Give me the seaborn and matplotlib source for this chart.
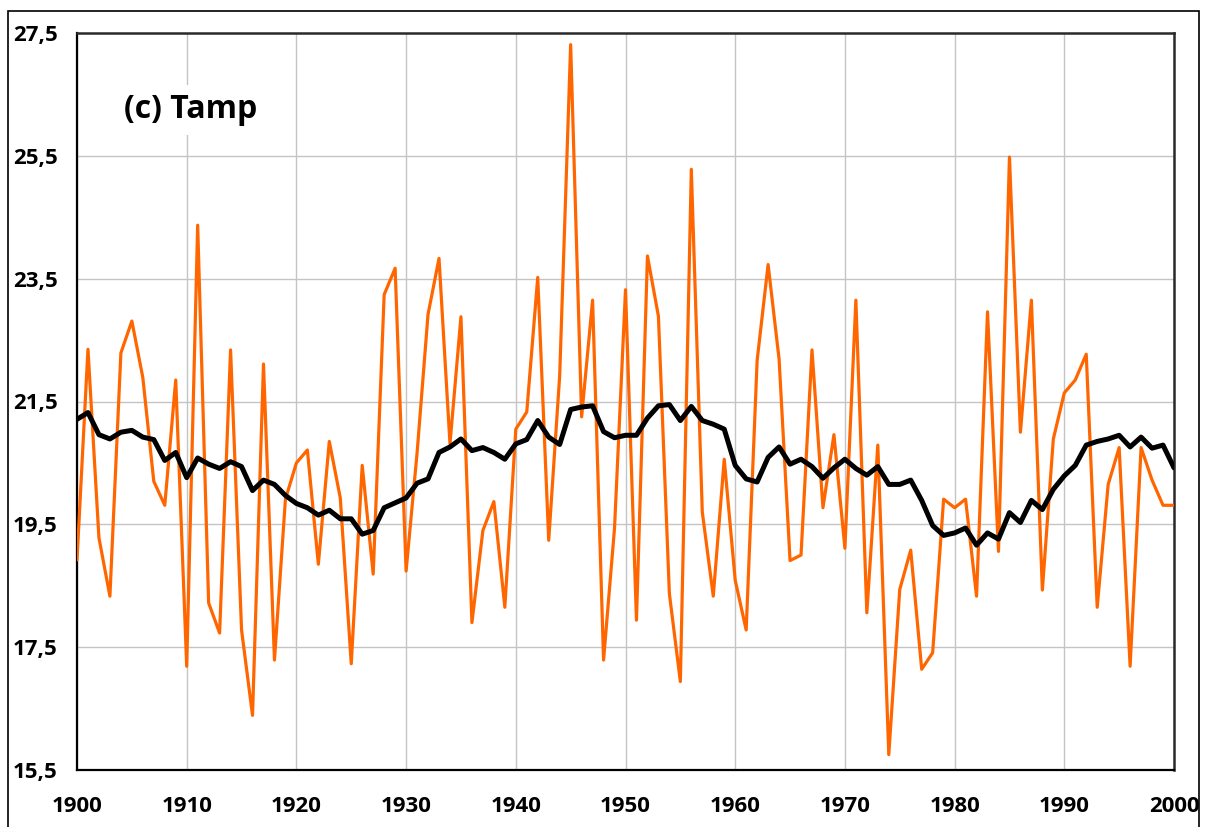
import matplotlib
matplotlib.use("Agg")
import matplotlib.pyplot as plt
import numpy as np
import pandas as pd
import seaborn as sns
from matplotlib.patches import Rectangle

# Annual amplitude series and its running mean, 1900-2000
years = list(range(1900, 2001))
tamp = [
    18.92, 22.35, 19.28, 18.33, 22.29, 22.81, 21.89, 20.20, 19.81, 21.85,
    17.19, 24.37, 18.22, 17.73, 22.34, 17.78, 16.39, 22.11, 17.29, 19.91,
    20.50, 20.71, 18.85, 20.85, 19.93, 17.23, 20.46, 18.69, 23.24, 23.67,
    18.74, 20.66, 22.92, 23.83, 20.81, 22.88, 17.90, 19.40, 19.87, 18.15,
    21.05, 21.33, 23.52, 19.24, 21.92, 27.31, 21.25, 23.15, 17.29, 19.44,
    23.32, 17.94, 23.87, 22.89, 18.37, 16.94, 25.28, 19.70, 18.33, 20.56,
    18.59, 17.78, 22.17, 23.73, 22.19, 18.91, 19.00, 22.34, 19.77, 20.96,
    19.11, 23.15, 18.06, 20.79, 15.75, 18.44, 19.08, 17.14, 17.41, 19.91,
    19.77, 19.91, 18.33, 22.96, 19.06, 25.48, 21.00, 23.15, 18.43, 20.89,
    21.64, 21.85, 22.27, 18.15, 20.15, 20.75, 17.19, 20.75, 20.22, 19.81,
    19.81,
]
tamp_mean = [
    21.21, 21.32, 20.96, 20.89, 21.00, 21.03, 20.92, 20.88, 20.54, 20.67,
    20.26, 20.58, 20.48, 20.41, 20.52, 20.44, 20.05, 20.22, 20.15, 19.97,
    19.84, 19.77, 19.65, 19.73, 19.59, 19.59, 19.34, 19.40, 19.77, 19.85,
    19.93, 20.17, 20.24, 20.67, 20.76, 20.89, 20.70, 20.75, 20.67, 20.56,
    20.81, 20.88, 21.19, 20.92, 20.80, 21.37, 21.41, 21.43, 21.01, 20.91,
    20.95, 20.95, 21.23, 21.43, 21.45, 21.19, 21.42, 21.19, 21.13, 21.05,
    20.46, 20.24, 20.19, 20.59, 20.76, 20.48, 20.56, 20.44, 20.25, 20.42,
    20.56, 20.41, 20.30, 20.44, 20.15, 20.15, 20.22, 19.89, 19.48, 19.32,
    19.36, 19.44, 19.16, 19.36, 19.26, 19.69, 19.53, 19.89, 19.74, 20.07,
    20.29, 20.46, 20.79, 20.85, 20.89, 20.95, 20.76, 20.92, 20.74, 20.79,
    20.42,
]
y_ticks = [15.5, 17.5, 19.5, 21.5, 23.5, 25.5, 27.5]
y_tick_labels = ["15,5", "17,5", "19,5", "21,5", "23,5", "25,5", "27,5"]
x_ticks = list(range(1900, 2001, 10))
x_tick_labels = [str(y) for y in x_ticks]
panel_label = "(c) Tamp"

sns.set_style("white")
FONT = ["Open Sans", "DejaVu Sans"]
plt.rcParams["font.family"] = FONT
plt.rcParams["font.weight"] = "bold"
plt.rcParams["text.color"] = "black"
plt.rcParams["xtick.color"] = "black"
plt.rcParams["ytick.color"] = "black"
plt.rcParams["xtick.labelcolor"] = "black"
plt.rcParams["ytick.labelcolor"] = "black"

df = pd.DataFrame({"year": years, "tamp": tamp, "mean": tamp_mean})

fig = plt.figure(figsize=(12.05, 8.27), dpi=100)
ax = fig.add_axes([77 / 1205, 1 - 770 / 827, (1174 - 77) / 1205, (770 - 33) / 827])

sns.lineplot(data=df, x="year", y="tamp", ax=ax, color="#FF6600",
             linewidth=2.3, legend=False, zorder=3)
sns.lineplot(data=df, x="year", y="mean", ax=ax, color="black",
             linewidth=3.6, legend=False, zorder=4)

ax.set_xlim(1900, 2000)
ax.set_ylim(15.5, 27.5)
ax.set_xlabel("")
ax.set_ylabel("")

ax.grid(True, color="#C4C4C4", linewidth=1.0, zorder=0)
ax.set_axisbelow(True)

for side in ["left", "bottom"]:
    ax.spines[side].set_color("black")
    ax.spines[side].set_linewidth(1.6)
for side in ["top", "right"]:
    ax.spines[side].set_visible(True)
    ax.spines[side].set_color("#2a2a2a")
    ax.spines[side].set_linewidth(1.8)

ax.tick_params(axis="both", which="major", direction="out", length=7,
               width=1.2, color="black", labelcolor="black")
ax.tick_params(axis="x", pad=12)
ax.tick_params(axis="y", pad=7)
ax.set_xticks(x_ticks, labels=x_tick_labels, fontsize=16, fontweight="bold",
              family=FONT, color="black")
ax.set_yticks(y_ticks, labels=y_tick_labels, fontsize=16, fontweight="bold",
              family=FONT, color="black")

ax.text(1910.4, 26.25, panel_label, fontsize=23, fontweight="bold",
        ha="center", va="center", zorder=5, family=FONT, color="black",
        bbox=dict(facecolor="white", edgecolor="none", pad=6))

# Outer chart frame
fig.patches.append(Rectangle((8 / 1205, -0.01), (1199 - 8) / 1205, 1 - 11 / 827 + 0.01,
                             transform=fig.transFigure, fill=False,
                             edgecolor="black", linewidth=1.2))

fig.savefig("out.png", dpi=100, facecolor="white")
